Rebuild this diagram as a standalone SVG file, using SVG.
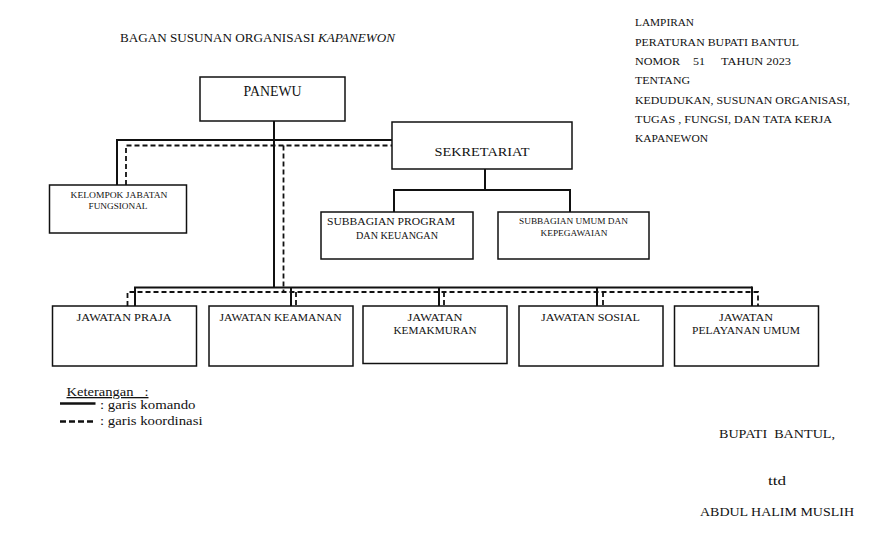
<svg xmlns="http://www.w3.org/2000/svg" width="886" height="535" viewBox="0 0 886 535">
<style>
text{font-family:"Liberation Serif","DejaVu Serif",serif;fill:#111;}
.box{fill:#fff;stroke:#111;stroke-width:1.5;}
.solid{fill:none;stroke:#111;stroke-width:2;}
.dash{fill:none;stroke:#111;stroke-width:1.8;stroke-dasharray:5 3;}
.c{text-anchor:middle;}
</style>
<rect width="886" height="535" fill="#fff"/>
<text x="120" y="42" font-size="13" textLength="275" lengthAdjust="spacingAndGlyphs">BAGAN SUSUNAN ORGANISASI <tspan font-style="italic">KAPANEWON</tspan></text>
<g id="header" font-size="11">
<text x="635" y="26" textLength="59" lengthAdjust="spacingAndGlyphs">LAMPIRAN</text>
<text x="635" y="45.5" textLength="164" lengthAdjust="spacingAndGlyphs">PERATURAN BUPATI BANTUL</text>
<text x="635" y="64.5" textLength="45" lengthAdjust="spacingAndGlyphs">NOMOR</text>
<text x="693" y="64.5" textLength="12" lengthAdjust="spacingAndGlyphs">51</text>
<text x="721" y="64.5" textLength="70" lengthAdjust="spacingAndGlyphs">TAHUN 2023</text>
<text x="635" y="84" textLength="55" lengthAdjust="spacingAndGlyphs">TENTANG</text>
<text x="635" y="103.5" textLength="215" lengthAdjust="spacingAndGlyphs">KEDUDUKAN, SUSUNAN ORGANISASI,</text>
<text x="635" y="123" textLength="197" lengthAdjust="spacingAndGlyphs">TUGAS , FUNGSI, DAN TATA KERJA</text>
<text x="635" y="142" textLength="73" lengthAdjust="spacingAndGlyphs">KAPANEWON</text>
</g>
<g id="connectors">
<polyline class="solid" points="274,121 274,287"/>
<polyline class="solid" points="117,185 117,140 392,140"/>
<polyline class="solid" points="485,169 485,190"/>
<polyline class="solid" points="394,212 394,190 570,190 570,212"/>
<polyline class="solid" points="135,306 135,287.5 752,287.5"/>
<line class="solid" x1="291" y1="287.5" x2="291" y2="306"/>
<line class="solid" x1="439" y1="287.5" x2="439" y2="306"/>
<line class="solid" x1="597" y1="287.5" x2="597" y2="306"/>
<line class="solid" x1="752" y1="286.5" x2="752" y2="306"/>
<polyline class="dash" points="126,185 126,145.5 392,145.5"/>
<polyline class="dash" points="283.5,145.5 283.5,292"/>
<polyline class="dash" points="127.5,306 127.5,292 758,292 758,306"/>
<line class="dash" x1="296" y1="292" x2="296" y2="306"/>
<line class="dash" x1="444" y1="292" x2="444" y2="306"/>
<line class="dash" x1="603" y1="292" x2="603" y2="306"/>
</g>
<g id="panewu">
<rect class="box" x="200" y="77" width="145" height="44"/>
<text class="c" x="272.5" y="95.5" font-size="14" textLength="58" lengthAdjust="spacingAndGlyphs">PANEWU</text>
</g>
<g id="sekretariat">
<rect class="box" x="392" y="122" width="180" height="47"/>
<text class="c" x="482" y="156" font-size="13.5" textLength="95" lengthAdjust="spacingAndGlyphs">SEKRETARIAT</text>
</g>
<g id="kelompok-jabatan-fungsional">
<rect class="box" x="49.5" y="185" width="137" height="48" stroke-width="2"/>
<text class="c" x="119" y="198" font-size="8.5" textLength="97" lengthAdjust="spacingAndGlyphs">KELOMPOK JABATAN</text>
<text class="c" x="118" y="208.5" font-size="8.5" textLength="59" lengthAdjust="spacingAndGlyphs">FUNGSIONAL</text>
</g>
<g id="subbagian-program">
<rect class="box" x="321" y="212" width="152" height="47"/>
<text class="c" x="391" y="225" font-size="9.5" textLength="128" lengthAdjust="spacingAndGlyphs">SUBBAGIAN PROGRAM</text>
<text class="c" x="397" y="238.5" font-size="9.5" textLength="82" lengthAdjust="spacingAndGlyphs">DAN KEUANGAN</text>
</g>
<g id="subbagian-umum">
<rect class="box" x="498" y="212" width="151" height="47"/>
<text class="c" x="573.5" y="223.5" font-size="8.5" textLength="109" lengthAdjust="spacingAndGlyphs">SUBBAGIAN UMUM DAN</text>
<text class="c" x="574" y="236" font-size="8.5" textLength="67" lengthAdjust="spacingAndGlyphs">KEPEGAWAIAN</text>
</g>
<g id="jawatan-praja">
<rect class="box" x="52.5" y="306" width="144" height="60"/>
<text class="c" x="124" y="321" font-size="10.5" textLength="95" lengthAdjust="spacingAndGlyphs">JAWATAN PRAJA</text>
</g>
<g id="jawatan-keamanan">
<rect class="box" x="209" y="306" width="144" height="60"/>
<text class="c" x="280.5" y="321" font-size="10.5" textLength="122" lengthAdjust="spacingAndGlyphs">JAWATAN KEAMANAN</text>
</g>
<g id="jawatan-kemakmuran">
<rect class="box" x="363" y="306" width="144" height="57.5"/>
<text class="c" x="435" y="321" font-size="10.5" textLength="55" lengthAdjust="spacingAndGlyphs">JAWATAN</text>
<text class="c" x="435" y="333.5" font-size="10.5" textLength="83" lengthAdjust="spacingAndGlyphs">KEMAKMURAN</text>
</g>
<g id="jawatan-sosial">
<rect class="box" x="519" y="306" width="144" height="60"/>
<text class="c" x="590.5" y="321" font-size="10.5" textLength="99" lengthAdjust="spacingAndGlyphs">JAWATAN SOSIAL</text>
</g>
<g id="jawatan-pelayanan-umum">
<rect class="box" x="674.5" y="306" width="144" height="60"/>
<text class="c" x="746" y="321" font-size="10.5" textLength="54" lengthAdjust="spacingAndGlyphs">JAWATAN</text>
<text class="c" x="746" y="333.5" font-size="10.5" textLength="108" lengthAdjust="spacingAndGlyphs">PELAYANAN UMUM</text>
</g>
<g id="legend" font-size="13">
<text x="66.5" y="396" textLength="82" lengthAdjust="spacingAndGlyphs" text-decoration="underline" xml:space="preserve">Keterangan   :</text>
<line x1="60" y1="403.5" x2="95.5" y2="403.5" stroke="#111" stroke-width="2.5"/>
<text x="100" y="409" textLength="95.5" lengthAdjust="spacingAndGlyphs">: garis komando</text>
<line x1="60" y1="421.5" x2="95.5" y2="421.5" stroke="#111" stroke-width="2.5" stroke-dasharray="6 3"/>
<text x="100" y="425" textLength="102.5" lengthAdjust="spacingAndGlyphs">: garis koordinasi</text>
</g>
<g id="signature" font-size="13">
<text x="719" y="437.5" textLength="116" lengthAdjust="spacingAndGlyphs" xml:space="preserve">BUPATI  BANTUL,</text>
<text x="768" y="485" textLength="18" lengthAdjust="spacingAndGlyphs">ttd</text>
<text x="700" y="516" textLength="154" lengthAdjust="spacingAndGlyphs">ABDUL HALIM MUSLIH</text>
</g>
</svg>
